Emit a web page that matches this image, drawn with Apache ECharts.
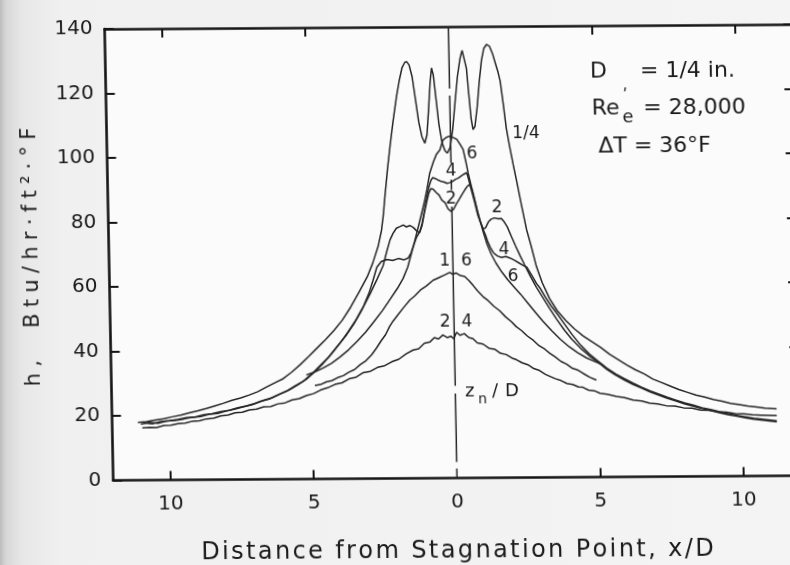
<!DOCTYPE html>
<html><head><meta charset="utf-8">
<script src="https://cdn.jsdelivr.net/npm/echarts@6/dist/echarts.min.js"></script>
<style>
html,body{margin:0;padding:0;width:790px;height:565px;overflow:hidden;position:relative;
background:linear-gradient(to right,#bdbdbd 0px,#d7d7d7 6px,#e7e7e7 22px,#f0f0f0 60px,#f4f4f4 100%);}
#chart{position:absolute;left:0;top:0;width:820px;height:565px;transform:skew(1.09deg,-0.39deg);transform-origin:395px 282.5px;}
</style></head><body><div id="chart"></div>
<script>
// ---- data (x/D, h) ----
const curveQuarter = [
[-11.1,17.9],[-10.8,18.2],[-10.5,18.6],[-10.2,19.0],[-9.9,19.6],[-9.6,20.1],[-9.3,20.8],[-9.0,21.4],[-8.7,22.1],[-8.4,22.9],[-8.1,23.7],[-7.8,24.6],[-7.5,25.3],[-7.2,26.2],[-6.9,27.2],[-6.6,28.6],[-6.3,29.9],[-6.0,31.2],[-5.7,33.2],[-5.4,35.5],[-5.1,38.0],[-4.8,40.6],[-4.5,43.2],[-4.2,46.0],[-3.9,49.2],[-3.6,53.2],[-3.3,57.8],[-3.0,62.6],[-2.8,66.8],[-2.6,72.0],[-2.47,77.0],[-2.4,81.5],[-2.33,87.4],[-2.22,96.0],[-2.12,102.9],[-2.0,110.5],[-1.86,118.4],[-1.75,123.5],[-1.65,127.3],[-1.55,129.0],[-1.48,129.2],[-1.4,128.2],[-1.3,124.5],[-1.2,117.5],[-1.1,110.5],[-1.0,106.0],[-0.9,103.9],[-0.82,106.5],[-0.75,114.0],[-0.68,122.5],[-0.62,127.2],[-0.56,125.0],[-0.48,117.5],[-0.4,110.0],[-0.3,104.0],[-0.2,101.5],[-0.12,100.8],[-0.02,102.5],[0.08,108.0],[0.18,116.5],[0.28,124.5],[0.38,130.0],[0.46,132.6],[0.52,132.4],[0.6,127.0],[0.67,118.5],[0.73,111.5],[0.79,108.0],[0.86,109.0],[0.95,115.0],[1.04,123.0],[1.13,129.5],[1.22,133.2],[1.32,134.4],[1.42,133.8],[1.52,131.5],[1.62,128.3],[1.7,125.8],[1.77,123.0],[1.86,116.0],[1.95,108.5],[2.05,103.0],[2.17,97.0],[2.27,92.4],[2.42,85.0],[2.59,77.0],[2.75,71.5],[2.91,65.5],[3.1,60.5],[3.35,55.5],[3.6,51.8],[3.9,48.6],[4.2,46.0],[4.5,43.8],[4.8,42.0],[5.1,40.2],[5.4,38.1],[5.7,36.4],[6.0,34.7],[6.3,33.2],[6.6,31.9],[6.9,30.3],[7.2,29.2],[7.5,28.1],[7.8,27.0],[8.1,26.1],[8.4,25.2],[8.7,24.6],[9.0,23.8],[9.3,23.3],[9.6,22.6],[9.9,22.2],[10.2,21.7],[10.5,21.4],[10.8,21.0],[11.2,20.8]
];
const curve2 = [
[-11.0,17.4],[-10.7,17.9],[-10.4,17.6],[-10.1,18.3],[-9.8,18.5],[-9.5,18.9],[-9.2,19.4],[-8.9,19.6],[-8.6,20.3],[-8.3,20.6],[-8.0,21.3],[-7.7,21.9],[-7.4,22.6],[-7.1,23.2],[-6.8,24.2],[-6.5,24.9],[-6.2,26.2],[-5.9,27.3],[-5.6,28.9],[-5.3,30.4],[-5.0,32.6],[-4.7,35.2],[-4.4,37.8],[-4.1,41.0],[-3.8,44.2],[-3.5,48.0],[-3.2,52.5],[-2.9,57.5],[-2.65,62.0],[-2.44,66.0],[-2.3,70.5],[-2.18,74.0],[-2.07,76.0],[-1.95,77.6],[-1.82,78.1],[-1.71,78.6],[-1.6,78.0],[-1.48,78.4],[-1.36,77.8],[-1.25,76.8],[-1.14,76.2],[-1.05,78.5],[-0.96,82.5],[-0.88,85.5],[-0.8,88.3],[-0.72,89.8],[-0.64,89.6],[-0.54,88.6],[-0.44,87.8],[-0.34,86.2],[-0.24,85.5],[-0.14,83.6],[-0.04,82.7],[0.06,83.4],[0.16,85.0],[0.26,86.4],[0.36,87.9],[0.46,89.3],[0.56,90.5],[0.64,91.0],[0.72,89.2],[0.8,86.0],[0.9,82.0],[1.0,79.0],[1.08,77.2],[1.16,77.5],[1.26,79.3],[1.36,80.2],[1.48,80.6],[1.6,80.3],[1.72,80.4],[1.82,79.3],[1.92,77.8],[2.05,75.0],[2.2,71.8],[2.35,68.8],[2.5,66.0],[2.7,62.3],[2.9,59.0],[3.1,56.0],[3.35,52.3],[3.6,48.8],[3.85,45.6],[4.1,42.8],[4.4,40.0],[4.7,37.6],[5.0,35.6],[5.3,33.4],[5.6,31.6],[5.9,30.1],[6.2,28.7],[6.5,27.5],[6.8,26.3],[7.1,25.3],[7.4,24.3],[7.7,23.4],[8.0,22.5],[8.3,21.8],[8.6,21.0],[8.9,20.4],[9.2,19.7],[9.5,19.1],[9.8,18.6],[10.1,18.1],[10.4,17.6],[10.7,17.3],[11.2,16.8]
];
const curve4 = [
[-10.9,17.8],[-10.6,17.5],[-10.3,18.2],[-10.0,18.4],[-9.7,18.8],[-9.4,19.3],[-9.1,19.5],[-8.8,20.2],[-8.5,20.5],[-8.2,21.1],[-7.9,21.5],[-7.6,22.3],[-7.3,22.8],[-7.0,23.6],[-6.7,24.5],[-6.4,25.3],[-6.1,26.5],[-5.8,27.7],[-5.5,29.2],[-5.2,30.9],[-4.9,33.2],[-4.6,35.8],[-4.3,38.8],[-4.0,42.0],[-3.7,45.6],[-3.4,49.6],[-3.15,53.5],[-2.95,57.5],[-2.8,61.5],[-2.66,65.5],[-2.5,67.3],[-2.3,67.9],[-2.1,67.6],[-1.9,68.2],[-1.7,67.8],[-1.55,68.4],[-1.45,70.0],[-1.35,72.5],[-1.25,74.8],[-1.14,76.4],[-1.05,79.0],[-0.96,83.0],[-0.88,86.5],[-0.8,90.0],[-0.72,92.2],[-0.65,93.2],[-0.55,92.9],[-0.45,92.4],[-0.35,92.0],[-0.25,91.8],[-0.15,91.4],[-0.06,91.6],[0.04,92.0],[0.14,92.6],[0.24,93.0],[0.34,93.6],[0.44,94.2],[0.54,94.7],[0.62,92.0],[0.7,89.0],[0.8,85.5],[0.9,81.5],[1.0,79.0],[1.08,77.0],[1.16,75.2],[1.24,73.0],[1.32,71.4],[1.42,69.8],[1.55,68.8],[1.7,68.3],[1.85,68.6],[2.0,68.1],[2.15,67.4],[2.3,66.6],[2.45,65.8],[2.58,65.2],[2.75,62.6],[2.9,60.2],[3.02,58.8],[3.2,56.0],[3.4,53.2],[3.6,50.8],[3.85,47.6],[4.1,44.4],[4.4,41.0],[4.7,38.2],[5.0,36.0],[5.3,33.8],[5.6,32.0],[5.9,30.5],[6.2,29.1],[6.5,27.8],[6.8,26.6],[7.1,25.6],[7.4,24.6],[7.7,23.7],[8.0,22.8],[8.3,22.1],[8.6,21.3],[8.9,20.7],[9.2,20.0],[9.5,19.4],[9.8,18.9],[10.1,18.4],[10.4,17.9],[10.7,17.6],[11.2,17.1]
];
const curve6 = [
[-5.19,32.3],[-4.9,33.2],[-4.6,34.4],[-4.3,35.9],[-4.0,37.8],[-3.7,40.0],[-3.4,42.6],[-3.1,45.4],[-2.8,48.6],[-2.5,52.0],[-2.2,55.8],[-1.95,59.0],[-1.75,62.0],[-1.58,65.5],[-1.45,69.5],[-1.32,73.5],[-1.2,77.5],[-1.08,81.5],[-0.96,85.5],[-0.86,89.5],[-0.75,94.6],[-0.62,98.0],[-0.5,100.5],[-0.38,101.8],[-0.27,104.8],[-0.16,105.6],[-0.05,106.0],[0.06,105.7],[0.14,105.4],[0.22,105.0],[0.32,103.6],[0.43,101.9],[0.52,98.0],[0.59,94.6],[0.68,91.0],[0.78,87.2],[0.88,83.3],[0.98,79.6],[1.08,76.2],[1.2,72.6],[1.34,69.4],[1.5,66.6],[1.7,63.8],[1.9,61.4],[2.1,59.3],[2.35,56.8],[2.6,54.0],[2.85,51.2],[3.1,48.5],[3.4,45.5],[3.7,42.8],[4.0,40.5],[4.3,38.6],[4.6,37.0],[4.9,35.8],[5.16,34.8]
];
const curve16 = [
[-4.9,29.0],[-4.7,29.3],[-4.5,30.1],[-4.3,30.5],[-4.1,31.4],[-3.9,32.0],[-3.7,33.1],[-3.5,33.9],[-3.3,35.4],[-3.1,36.6],[-2.9,38.4],[-2.73,40.4],[-2.55,42.8],[-2.4,44.6],[-2.25,47.2],[-2.13,48.8],[-1.95,50.8],[-1.75,53.0],[-1.53,55.3],[-1.35,56.6],[-1.15,58.4],[-0.95,59.6],[-0.7,61.4],[-0.5,62.2],[-0.3,63.0],[-0.12,63.8],[-0.02,63.2],[0.1,63.6],[0.25,62.8],[0.4,62.5],[0.55,61.2],[0.7,59.6],[0.85,57.9],[1.03,56.2],[1.2,55.0],[1.4,53.2],[1.6,51.8],[1.8,49.9],[2.0,48.4],[2.17,46.8],[2.35,45.6],[2.55,43.9],[2.75,42.6],[2.95,40.9],[3.15,39.8],[3.32,38.5],[3.5,37.4],[3.7,36.0],[3.9,35.1],[4.1,33.8],[4.3,33.2],[4.47,32.2],[4.7,31.0],[4.93,30.1]
];
const curve24 = [
[-10.95,16.2],[-10.7,16.4],[-10.45,16.3],[-10.2,16.9],[-9.95,17.0],[-9.7,17.5],[-9.45,17.6],[-9.2,18.2],[-8.95,18.3],[-8.7,18.9],[-8.45,19.1],[-8.2,19.8],[-7.95,20.0],[-7.7,20.7],[-7.45,20.9],[-7.2,21.6],[-6.95,21.8],[-6.7,22.5],[-6.45,22.6],[-6.2,23.4],[-5.95,23.7],[-5.7,24.6],[-5.45,25.0],[-5.2,25.9],[-4.95,26.5],[-4.7,27.6],[-4.45,28.3],[-4.2,29.3],[-3.95,29.8],[-3.7,31.0],[-3.45,31.5],[-3.2,32.9],[-2.95,33.3],[-2.7,34.5],[-2.45,35.0],[-2.2,36.2],[-1.95,37.0],[-1.7,38.6],[-1.45,39.8],[-1.25,40.2],[-1.05,41.9],[-0.85,42.3],[-0.7,43.6],[-0.55,43.2],[-0.4,44.4],[-0.25,43.6],[-0.12,44.0],[-0.02,43.2],[0.08,45.2],[0.2,44.3],[0.35,44.8],[0.5,43.6],[0.65,43.2],[0.8,41.9],[1.0,41.5],[1.2,40.2],[1.4,39.9],[1.6,38.6],[1.8,38.2],[2.0,37.1],[2.15,36.6],[2.35,35.6],[2.55,35.0],[2.75,33.8],[2.95,33.2],[3.15,32.0],[3.3,31.4],[3.5,30.6],[3.7,30.0],[3.9,29.1],[4.1,28.8],[4.3,28.0],[4.45,27.9],[4.65,27.0],[4.85,26.8],[5.05,26.0],[5.3,25.7],[5.62,25.0],[5.9,24.6],[6.2,23.8],[6.5,23.5],[6.78,22.8],[7.05,22.6],[7.35,22.0],[7.65,21.9],[7.95,21.3],[8.25,21.2],[8.55,20.6],[8.85,20.5],[9.15,20.0],[9.45,19.9],[9.75,19.4],[10.05,19.3],[10.35,19.0],[10.65,18.9],[11.2,18.7]
];
// vertical stagnation line x/D = 0, broken where labels sit
const centerLine = [[0,0],[0,3],[0,'-'],[0,5],[0,26.2],[0,'-'],[0,28.6],[0,84.2],[0,'-'],[0,89.3],[0,92.6],[0,'-'],[0,97.8],[0,118.6],[0,'-'],[0,120.8],[0,140]];
const xLabelValues = [-10,-5,0,5,10];
const xTickValues = [-10,-5,5,10];
const yMin = 0, yMax = 140, yStep = 20;
const xMin = -12, xMax = 12;

// ---- chart ----
const FONT = '"DejaVu Sans", sans-serif';
const INK = '#1a1a1a';
const LINE = '#252525';
const chart = echarts.init(document.getElementById('chart'), null, {renderer:'canvas', width:820, height:565});
const mk = (data) => ({type:'line', data, showSymbol:false, symbol:'none', smooth:false,
  lineStyle:{color:LINE, width:1.5}, animation:false, silent:true, z:3});
const axisLine = {show:true, onZero:false, lineStyle:{color:'#141414', width:2.6}};
const tickStyle = {color:'#141414', width:2};
const spread = (s, sep) => s.split('').join(sep);

const txt = (text, x, y, size, extra) => Object.assign({type:'text', x, y, z:10, silent:true,
  style:{text, font: size + 'px ' + FONT, fill: INK, align:'center', verticalAlign:'middle'}}, extra || {});
const left = (o) => { o.style.align = 'left'; return o; };

chart.setOption({
  animation:false,
  grid:{left:109.5, top:27, width:687.6, height:451.6, show:true, backgroundColor:'#fbfbfb', borderWidth:0},
  xAxis:[
    {type:'value', position:'bottom', min:xMin, max:xMax, axisLine,
     axisTick:{show:true, inside:true, length:9, lineStyle:tickStyle, customValues:xTickValues},
     axisLabel:{show:true, customValues:xLabelValues, formatter:v=>String(Math.abs(v)), fontSize:20, fontFamily:FONT, color:INK, margin:14},
     splitLine:{show:false}},
    {type:'value', position:'top', min:xMin, max:xMax, axisLine,
     axisTick:{show:true, inside:true, length:9, lineStyle:tickStyle, customValues:xTickValues},
     axisLabel:{show:false}, splitLine:{show:false}}
  ],
  yAxis:[
    {type:'value', position:'left', min:yMin, max:yMax, interval:yStep, axisLine,
     axisTick:{show:true, inside:true, length:9, lineStyle:tickStyle},
     axisLabel:{fontSize:20, fontFamily:FONT, color:INK, margin:12}, splitLine:{show:false}},
    {type:'value', position:'right', min:yMin, max:yMax, interval:yStep, axisLine,
     axisTick:{show:true, inside:true, length:9, lineStyle:tickStyle},
     axisLabel:{show:false}, splitLine:{show:false}}
  ],
  series:[mk(curveQuarter), mk(curve2), mk(curve4), mk(curve6), mk(curve16), mk(curve24),
    Object.assign(mk(centerLine), {connectNulls:false})],
  graphic:[
    txt(spread('Distance from Stagnation Point, x/D', '\u200A'), 452.4, 551.4, 24),
    txt(spread('h,  Btu/hr·ft²·°F', '\u2009\u200A'), 32.5, 254.5, 21, {rotation:Math.PI/2}),
    left(txt('D', 594, 73.3, 22)),
    left(txt('= 1/4 in.', 644, 73.6, 22)),
    left(txt('Re', 595, 109.8, 22)),
    left(txt('\u02B9', 626.5, 98.3, 16)),
    left(txt('e', 625.5, 119.1, 18)),
    left(txt('= 28,000', 646.6, 110, 22)),
    left(txt('\u0394T = 36°F', 600.9, 147.9, 22)),
    txt('1/4', 528.8, 134.9, 17),
    txt('6', 474.4, 154.5, 17),
    txt('4', 453.1, 171.4, 17),
    txt('2', 452.6, 199.4, 17),
    txt('2', 498.4, 208.7, 17),
    txt('4', 504.6, 250.7, 17),
    txt('6', 513.1, 277.8, 17),
    txt('1  6', 456.0, 261.4, 17),
    txt('2  4', 455.3, 322.4, 17),
    left(txt('z', 463, 392.5, 18)),
    left(txt('n', 476, 400.5, 14)),
    left(txt('/', 490, 392, 18)),
    left(txt('D', 503, 392.8, 18))
  ]
});
</script></body></html>
